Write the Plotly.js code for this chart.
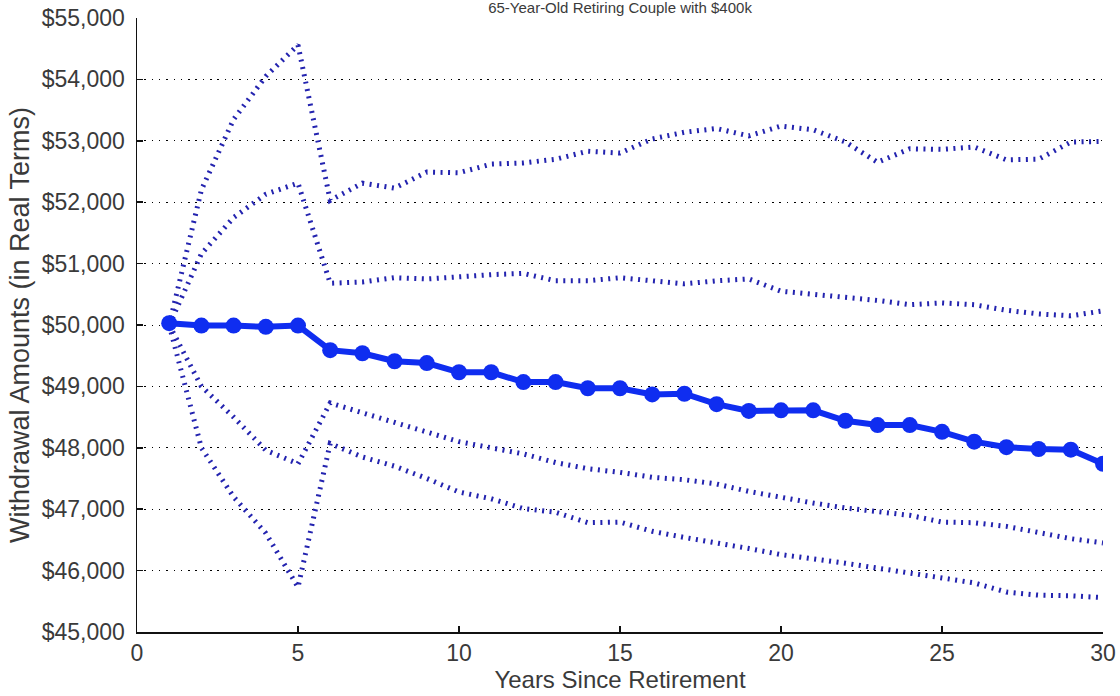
<!DOCTYPE html>
<html>
<head>
<meta charset="utf-8">
<script src="https://cdn.plot.ly/plotly-3.0.1.min.js"></script>
<style>html,body{margin:0;padding:0;background:#fff;}#chart{width:1120px;height:696px;}</style>
</head>
<body>
<div id="chart"></div>
<script>
const years = [1,2,3,4,5,6,7,8,9,10,11,12,13,14,15,16,17,18,19,20,21,22,23,24,25,26,27,28,29,30];

const median = [50030,49990,49990,49970,49990,49590,49540,49410,49380,49230,49230,49070,49070,48970,48970,48870,48880,48710,48600,48610,48610,48440,48370,48370,48260,48100,48010,47980,47970,47740];

const upperOuter = [50000,52200,53350,54050,54560,52030,52310,52230,52490,52480,52620,52640,52700,52830,52800,53030,53140,53200,53080,53240,53180,52980,52650,52870,52860,52900,52690,52700,52980,52990];

const upperInner = [50000,51160,51750,52130,52310,50680,50700,50770,50750,50790,50820,50840,50720,50720,50770,50720,50670,50720,50750,50550,50500,50470,50400,50330,50360,50330,50240,50180,50150,50230];

const lowerInner = [50000,49000,48500,47960,47740,48730,48570,48420,48260,48100,48000,47900,47760,47660,47600,47520,47480,47410,47290,47190,47100,47020,46950,46900,46790,46780,46720,46610,46520,46450];

const lowerOuter = [50000,48000,47200,46610,45730,48070,47850,47700,47500,47280,47170,47010,46950,46780,46790,46640,46540,46460,46360,46260,46200,46120,46040,45960,45880,45800,45650,45600,45590,45560];

const xTicks = [0,5,10,15,20,25,30];
const yTicks = [45000,46000,47000,48000,49000,50000,51000,52000,53000,54000,55000];
const yTickLabels = ["$45,000","$46,000","$47,000","$48,000","$49,000","$50,000","$51,000","$52,000","$53,000","$54,000","$55,000"];

const titleText = "65-Year-Old Retiring Couple with $400k";
const xTitle = "Years Since Retirement";
const yTitle = "Withdrawal Amounts (in Real Terms)";

const dotColor = "rgb(35,35,175)";
const dotLine = {color: dotColor, width: 5, dash: "2px,5.5px"};

function band(vals) {
  return {x: years, y: vals, type: "scatter", mode: "lines", line: dotLine, hoverinfo: "skip", showlegend: false};
}

const traces = [
  band(upperOuter),
  band(upperInner),
  band(lowerInner),
  band(lowerOuter),
  {
    x: years, y: median, type: "scatter", mode: "lines+markers",
    line: {color: "rgb(15,45,240)", width: 6},
    marker: {color: "rgb(15,45,240)", size: 16, symbol: "circle"},
    showlegend: false
  }
];

const fam = "Arial, 'Liberation Sans', sans-serif";
const tickFont = {family: fam, size: 23, color: "#3a3a3a"};

const layout = {
  width: 1120, height: 696,
  paper_bgcolor: "#fff", plot_bgcolor: "#fff",
  margin: {l: 137, r: 17, t: 18, b: 64},
  font: tickFont,
  showlegend: false,
  title: {
    text: titleText,
    font: {family: fam, size: 15, color: "#3a3a3a"},
    x: 0.5536, xanchor: "center", xref: "container",
    y: 0.996, yanchor: "top", yref: "container",
    pad: {t: 0, b: 0, l: 0, r: 0}
  },
  xaxis: {
    range: [0, 30], tickvals: xTicks, ticktext: xTicks.map(String),
    showgrid: false, zeroline: false,
    showline: true, linecolor: "#111", linewidth: 1.5,
    ticks: "inside", ticklen: 6, tickwidth: 1.5, tickcolor: "#111",
    tickfont: tickFont,
    title: {text: xTitle, font: {family: fam, size: 24, color: "#3a3a3a"}, standoff: 4}
  },
  yaxis: {
    range: [45000, 55000], tickmode: "array", tickvals: yTicks, ticktext: yTickLabels,
    showgrid: true, gridcolor: "#000", gridwidth: 1, griddash: "1.5px,5.8px",
    zeroline: false,
    showline: true, linecolor: "#111", linewidth: 1.5,
    ticks: "inside", ticklen: 6, tickwidth: 1.5, tickcolor: "#111",
    tickfont: tickFont, ticklabelstandoff: 6,
    title: {text: yTitle, font: {family: fam, size: 27, color: "#3a3a3a"}, standoff: 4}
  }
};

Plotly.newPlot("chart", traces, layout, {displayModeBar: false, staticPlot: true});
</script>
</body>
</html>
